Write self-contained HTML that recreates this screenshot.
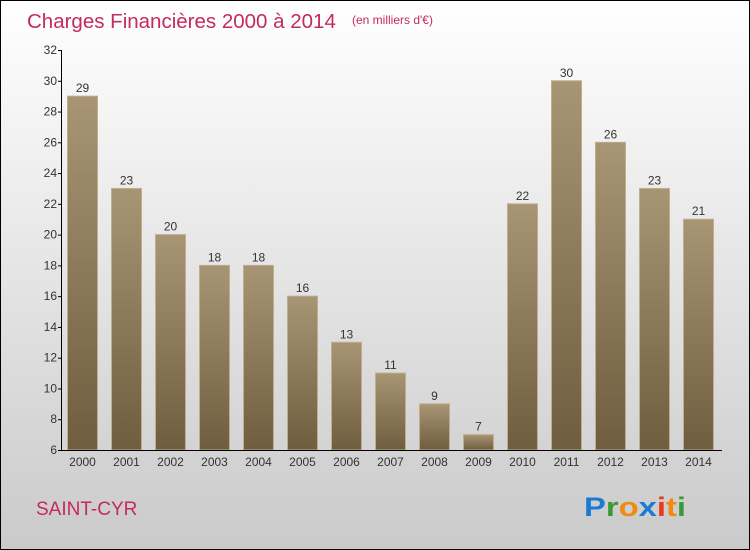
<!DOCTYPE html>
<html><head><meta charset="utf-8"><style>
body{margin:0;width:750px;height:550px;overflow:hidden}
svg{display:block;font-family:"Liberation Sans",sans-serif}
</style></head><body>
<svg width="750" height="550">
<defs>
<linearGradient id="bg" x1="0" y1="0" x2="0" y2="1"><stop offset="0" stop-color="#ffffff"/><stop offset="1" stop-color="#cacaca"/></linearGradient>
<linearGradient id="bar" x1="0" y1="0" x2="0" y2="1"><stop offset="0" stop-color="#a89574"/><stop offset="1" stop-color="#6f5d3f"/></linearGradient>
</defs>
<rect x="0.5" y="0.5" width="749" height="549" fill="url(#bg)" stroke="#000"/>
<text x="27" y="28" font-size="20.5" fill="#c42a5e">Charges Financières 2000 à 2014</text>
<text x="352" y="24" font-size="12" fill="#c42a5e">(en milliers d'€)</text>
<g id="yaxis"></g>
<g id="bars"></g>
<g id="xaxis"></g>
<text x="36" y="515" font-size="19" fill="#c42a5e">SAINT-CYR</text>
<g font-size="27" font-weight="bold" font-family="'Liberation Sans',sans-serif">
<text x="584" y="516" textLength="102" lengthAdjust="spacingAndGlyphs"><tspan fill="#1a7ad4">P</tspan><tspan fill="#3a9a3a">r</tspan><tspan fill="#f08a10">o</tspan><tspan fill="#1a7ad4">x</tspan><tspan fill="#e83a1a">i</tspan><tspan fill="#f08a10">t</tspan><tspan fill="#3a9a3a">i</tspan></text>
</g>
</svg>
<script>
const years=["2000","2001","2002","2003","2004","2005","2006","2007","2008","2009","2010","2011","2012","2013","2014"];
const values=[29,23,20,18,18,16,13,11,9,7,22,30,26,23,21];
const yTicks=[6,8,10,12,14,16,18,20,22,24,26,28,30,32];
const NS="http://www.w3.org/2000/svg";
const x0=60.5,band=44,yMin=6,yMax=32,yTop=50,yBot=450;
const y=v=>yBot-(v-yMin)/(yMax-yMin)*(yBot-yTop);
function mk(t,a,p){const e=document.createElementNS(NS,t);for(const k in a)e.setAttribute(k,a[k]);p.appendChild(e);return e;}
const ya=document.getElementById('yaxis'),xa=document.getElementById('xaxis'),bg=document.getElementById('bars');
mk('line',{x1:61.5,x2:61.5,y1:yTop,y2:yBot,stroke:'#000'},ya);
yTicks.forEach(t=>{
 const l=mk('line',{x1:58,x2:62,y1:y(t)+.5,y2:y(t)+.5,stroke:'#000'},ya);
 
 
 const tx=mk('text',{x:57,y:y(t)+4,'font-size':12,fill:'#333','text-anchor':'end'},ya);tx.textContent=t;
 
 
});
mk('line',{x1:61,x2:722,y1:yBot+.5,y2:yBot+.5,stroke:'#000'},xa);
years.forEach((yr,i)=>{
 const cx=x0+band*i+band/2,v=values[i];
 const r=mk('rect',{x:cx-15,y:y(v),width:30,height:yBot-y(v),fill:'url(#bar)',stroke:'#bfae8e','stroke-width':1},bg);
 
 
 const vl=mk('text',{x:cx,y:y(v)-4,'font-size':12,fill:'#333','text-anchor':'middle'},bg);vl.textContent=v;
 
 
 const xl=mk('text',{x:cx,y:466,'font-size':12,fill:'#333','text-anchor':'middle'},xa);xl.textContent=yr;
 
 
});
</script>
</body></html>
